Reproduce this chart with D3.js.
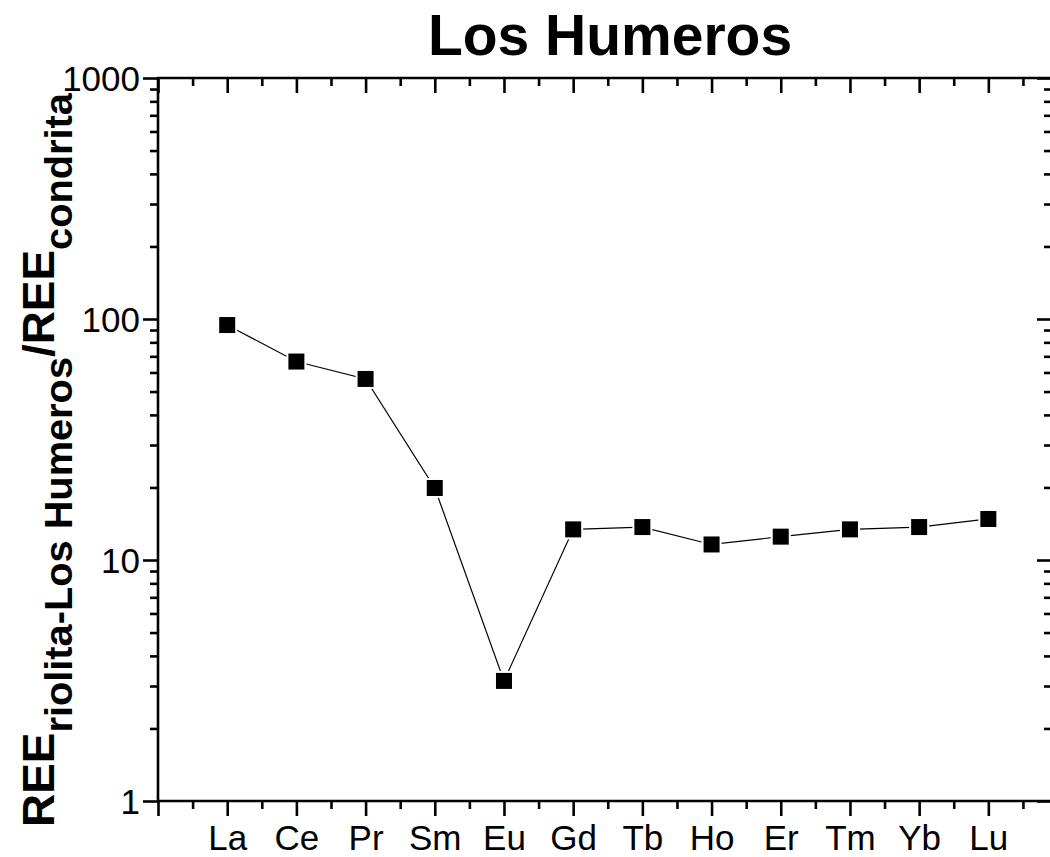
<!DOCTYPE html>
<html>
<head>
<meta charset="utf-8">
<script src="https://cdn.jsdelivr.net/npm/d3@7"></script>
<style>
  html, body { margin: 0; padding: 0; background: #fff; }
  svg { display: block; }
  text { font-family: "Liberation Sans", Arial, sans-serif; fill: #000; }
</style>
</head>
<body>
<svg id="chart" width="1050" height="857"></svg>
<script>
// ---- data ----
const categories = ["La", "Ce", "Pr", "Sm", "Eu", "Gd", "Tb", "Ho", "Er", "Tm", "Yb", "Lu"];
const values = [94.4, 66.6, 56.4, 19.9, 3.15, 13.4, 13.7, 11.6, 12.5, 13.4, 13.7, 14.8];
const yTickValues = [1, 10, 100, 1000];
const yTickLabels = ["1", "10", "100", "1000"];
const titleText = "Los Humeros";

// ---- layout ----
const pLeft = 158, pRight = 1052, pTop = 78, pBottom = 801;
const svg = d3.select("#chart");

const x = d3.scaleLinear().domain([0, 12.92]).range([pLeft, pRight]);
const y = d3.scaleLog().domain([1, 1000]).range([pBottom, pTop]);

const majorLen = 15, minorLen = 8, sw = 2.6;

const minorY = [];
[1, 10, 100].forEach(d => { for (let k = 2; k <= 9; k++) minorY.push(d * k); });
const majorX = d3.range(0, 13);
const minorX = d3.range(0, 13).map(d => d + 0.5);

// Left axis (outward ticks)
const gL = svg.append("g").attr("transform", `translate(${pLeft},0)`);
gL.call(d3.axisLeft(y).tickValues(yTickValues).tickSize(majorLen).tickFormat((d, i) => yTickLabels[i]).tickPadding(3));
gL.append("g").call(d3.axisLeft(y).tickValues(minorY).tickSize(minorLen).tickFormat(""));
// Right axis (inward ticks)
const gR = svg.append("g").attr("transform", `translate(${pRight},0)`);
gR.call(d3.axisRight(y).tickValues(yTickValues).tickSize(-majorLen).tickFormat(""));
gR.append("g").call(d3.axisRight(y).tickValues(minorY).tickSize(-minorLen).tickFormat(""));
// Bottom axis (outward ticks)
const gB = svg.append("g").attr("transform", `translate(0,${pBottom})`);
gB.call(d3.axisBottom(x).tickValues(majorX).tickSize(majorLen)
  .tickFormat(d => (d >= 1 && d <= categories.length) ? categories[d - 1] : "").tickPadding(9));
gB.append("g").call(d3.axisBottom(x).tickValues(minorX).tickSize(minorLen).tickFormat(""));
// Top axis (inward ticks)
const gT = svg.append("g").attr("transform", `translate(0,${pTop})`);
gT.call(d3.axisTop(x).tickValues(majorX).tickSize(-majorLen).tickFormat(""));
gT.append("g").call(d3.axisTop(x).tickValues(minorX).tickSize(-minorLen).tickFormat(""));

svg.selectAll(".domain").remove();
svg.selectAll(".tick line").attr("stroke", "#000").attr("stroke-width", sw);
const frame = [
  [pLeft, pTop - 1, pLeft, pBottom + 1],
  [pRight, pTop - 1, pRight, pBottom + 1],
  [pLeft - 1, pTop, pRight + 1, pTop],
  [pLeft - 1, pBottom, pRight + 1, pBottom]
];
svg.selectAll("line.frame").data(frame).enter().append("line")
  .attr("x1", d => d[0]).attr("y1", d => d[1]).attr("x2", d => d[2]).attr("y2", d => d[3])
  .attr("stroke", "#000").attr("stroke-width", sw);

svg.selectAll(".tick text").style("font-size", "35px").style("font-family", '"Liberation Sans", Arial, sans-serif').attr("fill", "#000");
gL.selectAll(".tick text").attr("dy", "0.36em");

// ---- data line & markers ----
const pts = values.map((v, i) => ({ c: categories[i], v, i: i + 1 }));
svg.append("path").datum(pts)
  .attr("fill", "none").attr("stroke", "#000").attr("stroke-width", 1.2)
  .attr("d", d3.line().x(d => x(d.i)).y(d => y(d.v)));
const ms = 16;
svg.selectAll("rect.halo").data(pts).enter().append("rect").attr("class", "halo")
  .attr("x", d => x(d.i) - ms / 2 - 2).attr("y", d => y(d.v) - ms / 2 - 2)
  .attr("width", ms + 4).attr("height", ms + 4).attr("fill", "#fff");
svg.selectAll("rect.mk").data(pts).enter().append("rect").attr("class", "mk")
  .attr("x", d => x(d.i) - ms / 2).attr("y", d => y(d.v) - ms / 2)
  .attr("width", ms).attr("height", ms).attr("fill", "#000");

// ---- title ----
svg.append("text").attr("x", 610).attr("y", 55).attr("text-anchor", "middle")
  .style("font-size", "57px").style("font-weight", "bold").text(titleText);

// ---- y label ----
const yl = svg.append("text")
  .attr("transform", `translate(54,460) rotate(-90) scale(1.02,1)`)
  .attr("text-anchor", "middle")
  .style("font-weight", "bold");
yl.append("tspan").style("font-size", "45px").text("REE");
yl.append("tspan").style("font-size", "39px").attr("dy", 18).text("riolita-Los Humeros");
yl.append("tspan").style("font-size", "45px").attr("dy", -18).text("/REE");
yl.append("tspan").style("font-size", "39px").attr("dy", 18).text("condrita");
</script>
</body>
</html>
